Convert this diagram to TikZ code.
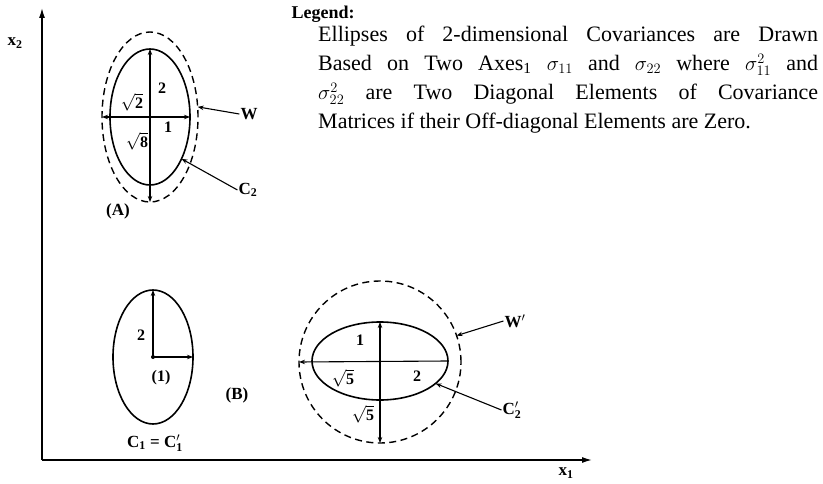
\documentclass[tikz,border=0pt]{standalone}
\usepackage{fontspec}
\setmainfont{Liberation Serif}
\usetikzlibrary{arrows.meta,positioning,shapes.geometric}

\begin{document}
\begin{tikzpicture}[x=1pt,y=1pt,
  lbl/.style={font=\fontsize{17}{19}\selectfont\bfseries,inner sep=1pt},
  num/.style={font=\fontsize{16}{18}\selectfont\bfseries,inner sep=0pt},
  ell/.style={ellipse,draw,line width=1.6pt,inner sep=0pt,outer sep=0pt},
  dell/.style={ell,line width=1.4pt,dash pattern=on 7pt off 4.5pt},
  ax/.style={line width=1.4pt,-{Latex[length=10pt,width=6pt]}},
  rad/.style={line width=1.1pt},
  >={Stealth[length=6pt,width=4.5pt]}]
  \useasboundingbox (0,0) rectangle (823,-484);
  % axes
  \coordinate (o) at (42,-460);
  \coordinate (xend) at (592,-460);
  \coordinate (yend) at (42,-8);
  \draw[ax] (o) -- (xend);
  \draw[ax] (o) -- (yend);
  \node[lbl] (xone) at (566,-473) {x\textsubscript{1}};
  \node[lbl] (xtwo) at (15,-43) {x\textsubscript{2}};
  % figure (A)
  \node[dell,minimum width=96,minimum height=170] (wA) at (150,-117) {};
  \node[ell,minimum width=80,minimum height=136] (cA) at (150,-117) {};
  \draw[rad,<->] (wA.west) -- (cA.east);
  \draw[rad,<->] (cA.north) -- (wA.south);
  \node[num] (sq2) at (132,-102) {$\mathbf{\sqrt{2}}$};
  \node[num] (twoA) at (162,-88) {2};
  \node[num] (oneA) at (168,-127) {1};
  \node[num] (sq8) at (137,-141) {$\mathbf{\sqrt{8}}$};
  \node[lbl] (W) at (249,-114) {W};
  \draw[rad,->] (W.west) -- (wA.12);
  \node[lbl] (Ctwo) at (248,-190) {C\textsubscript{2}};
  \draw[rad,->] (Ctwo.west) -- (cA.-53);
  \node[lbl] (labA) at (118,-211) {(A)};
  % figure (B)
  \node[ell,minimum width=80,minimum height=134] (cone) at (153,-357) {};
  \fill (cone.center) circle (2pt);
  \draw[rad,->] (cone.center) -- (cone.north);
  \draw[rad,->] (cone.center) -- (cone.east);
  \node[num] (twoB) at (141,-335) {2};
  \node[num] (oneB) at (161,-378) {(1)};
  \node[lbl] (labB) at (237,-395) {(B)};
  \node[lbl] (Cone) at (155,-443) {C\textsubscript{1} = C$'_{\mathbf 1}$};
  \node[dell,minimum width=162,minimum height=162] (wB) at (380,-362) {};
  \node[ell,minimum width=136,minimum height=78] (cB) at (380,-361) {};
  \draw[rad,->] (cB.east) -- (wB.west);
  \draw[rad,<->] (cB.north) -- (wB.south);
  \node[num] (oneC) at (360,-340) {1};
  \node[num] (sq5a) at (343,-378) {$\mathbf{\sqrt{5}}$};
  \node[num] (twoC) at (417,-376) {2};
  \node[num] (sq5b) at (363,-414) {$\mathbf{\sqrt{5}}$};
  \node[lbl] (Wp) at (515,-321) {W$'$};
  \draw[rad,->] (Wp.west) -- (wB.19);
  \node[lbl] (Ctwop) at (512,-410) {C$'_{\mathbf 2}$};
  \draw[rad,->] (Ctwop.west) -- (cB.-22);
  % legend
  \node[font=\fontsize{18}{20}\selectfont\bfseries,anchor=west] (leg) at (288,-14) {Legend:};
  \node[anchor=north west,text width=500pt,inner sep=0pt,align=justify,
        font=\fontsize{22}{29}\selectfont] (txt) at (318,-26)
    {\parfillskip=0pt\relax
     Ellipses of 2-dimensional Covariances are Drawn\linebreak
     Based on Two Axes\textsubscript{1} $\sigma_{11}$ and $\sigma_{22}$ where $\sigma_{11}^2$ and\linebreak
     $\sigma_{22}^2$ are Two Diagonal Elements of Covariance\linebreak
     Matrices if their Off-diagonal Elements are Zero.};
\end{tikzpicture}
\end{document}
